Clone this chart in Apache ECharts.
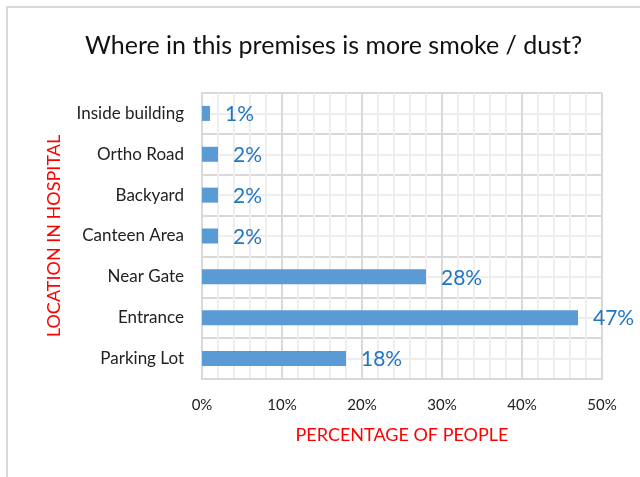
<!DOCTYPE html>
<html>
<head>
<meta charset="utf-8">
<script src="https://cdn.jsdelivr.net/npm/echarts@6/dist/echarts.min.js"></script>
<style>
  html, body { margin: 0; padding: 0; background: #fff; }
  #chart { width: 640px; height: 477px; }
</style>
</head>
<body>
<div id="chart"></div>
<script>
// Survey: where on the hospital premises smoke / dust is noticed most
const chartTitle = 'Where in this premises is more smoke / dust?';
const locations = ['Parking Lot', 'Entrance', 'Near Gate', 'Canteen Area', 'Backyard', 'Ortho Road', 'Inside building'];
const percentOfPeople = [18, 47, 28, 2, 2, 2, 1];
const xAxisTitle = 'PERCENTAGE OF PEOPLE';
const yAxisTitle = 'LOCATION IN HOSPITAL';

const font = 'Lato, "Open Sans", sans-serif';
const chart = echarts.init(document.getElementById('chart'), null, { renderer: 'canvas' });

chart.setOption({
  animation: false,
  backgroundColor: '#ffffff',
  textStyle: { fontFamily: font },
  title: {
    text: chartTitle,
    left: 80,
    top: 28,
    textStyle: { fontFamily: font, fontSize: 25, fontWeight: 'normal', color: '#111111' }
  },
  graphic: [{
    type: 'rect',
    shape: { x: 7, y: 7, width: 700, height: 600 },
    style: { fill: 'none', stroke: '#d9d9d9', lineWidth: 2 },
    silent: true
  }],
  grid: { left: 202, right: 38, top: 93, bottom: 98, containLabel: false },
  xAxis: {
    type: 'value',
    min: 0,
    max: 50,
    interval: 10,
    name: xAxisTitle,
    nameLocation: 'middle',
    nameGap: 47,
    nameTextStyle: { color: '#ff0000', fontSize: 18, fontFamily: font },
    axisLine: { show: true, lineStyle: { color: '#d9d9d9', width: 2 } },
    axisTick: { show: false },
    axisLabel: { formatter: '{value}%', color: '#222222', fontSize: 15, margin: 19, fontFamily: font },
    splitLine: { show: true, lineStyle: { color: '#d9d9d9', width: 2 } },
    minorTick: { show: false, splitNumber: 5 },
    minorSplitLine: { show: true, lineStyle: { color: '#eeeeee', width: 2 } }
  },
  yAxis: [{
    type: 'category',
    data: locations,
    name: yAxisTitle,
    nameLocation: 'middle',
    nameRotate: 90,
    nameGap: 139,
    nameTextStyle: { color: '#ff0000', fontSize: 18, fontFamily: font },
    axisLine: { show: true, lineStyle: { color: '#d9d9d9', width: 2 } },
    axisTick: { show: false },
    axisLabel: { color: '#222222', fontSize: 17, margin: 18, fontFamily: font },
    splitLine: { show: true, interval: 0, lineStyle: { color: '#d9d9d9', width: 2 } }
  }, {
    // helper axis for the light lines through each category's middle
    type: 'value',
    min: 0,
    max: 7,
    interval: 1,
    show: true,
    axisLine: { show: false },
    axisTick: { show: false },
    axisLabel: { show: false },
    splitLine: { show: false },
    minorTick: { show: false, splitNumber: 2 },
    minorSplitLine: { show: true, lineStyle: { color: '#eeeeee', width: 2 } }
  }],
  series: [{
    type: 'bar',
    yAxisIndex: 0,
    data: percentOfPeople,
    barWidth: 15,
    itemStyle: { color: '#5b9bd5' },
    label: {
      show: true,
      position: 'right',
      distance: 15,
      offset: [0, 1],
      formatter: '{c}%',
      color: '#2176c2',
      fontSize: 21,
      fontFamily: font
    }
  }]
});
</script>
</body>
</html>
